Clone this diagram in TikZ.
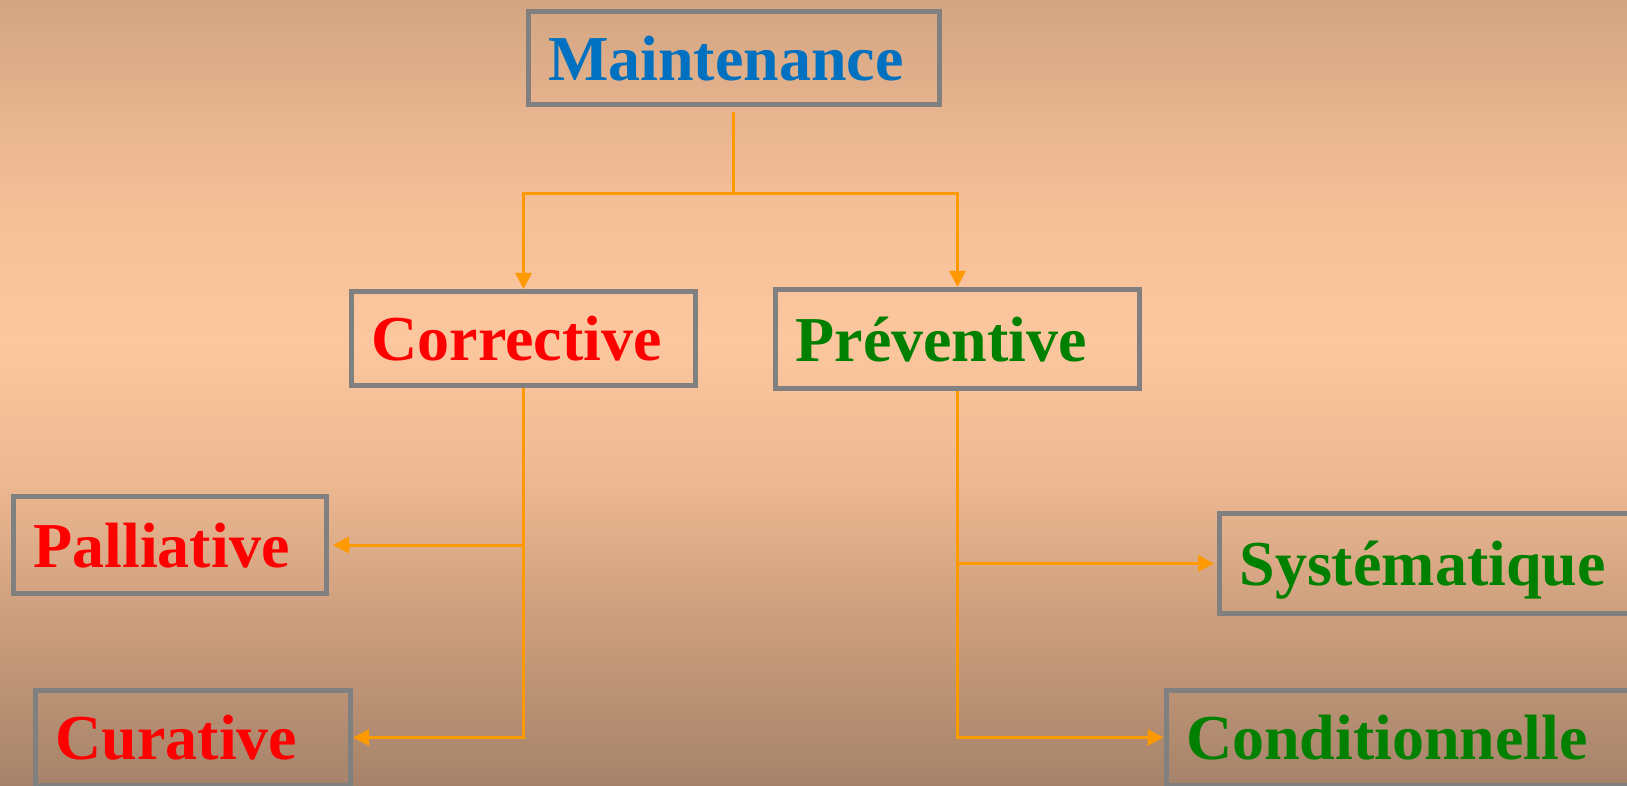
\documentclass[tikz,border=0pt]{standalone}
\usepackage{fontspec}
\setmainfont{Liberation Serif}
\usetikzlibrary{arrows.meta}
\definecolor{bgtop}{HTML}{D3A582}
\definecolor{bghigh}{HTML}{F4BF97}
\definecolor{bgmid}{HTML}{FCC69E}
\definecolor{bglow}{HTML}{EFBA93}
\definecolor{bgdeep}{HTML}{CC9E7D}
\definecolor{bgbot}{HTML}{A5836A}
\definecolor{framegray}{HTML}{808080}
\definecolor{linkorange}{HTML}{FF9900}
\definecolor{titleblue}{HTML}{0070C0}
\definecolor{typegreen}{HTML}{008000}
\pgfdeclareverticalshading{slidebg}{100bp}{color(0bp)=(bgbot); color(25bp)=(bgbot);
    color(35.56bp)=(bgdeep); color(45.1bp)=(bglow); color(53.37bp)=(bgmid);
    color(62.28bp)=(bghigh); color(75bp)=(bgtop); color(100bp)=(bgtop)}
\tikzstyle{mbox} = [draw=framegray, line width=5pt, rectangle, inner xsep=20pt,
    inner ysep=0pt, align=left, text height=44pt, text depth=0pt,
    font=\fontsize{64}{70}\selectfont\bfseries]
\tikzstyle{link} = [draw=linkorange, line width=3pt]
\tikzstyle{arrowlink} = [link, -{Triangle[length=16pt,width=16pt]}]

\begin{document}
\begin{tikzpicture}[x=1pt, y=1pt]
    \useasboundingbox (0,0) rectangle (1627,-786);
    \clip (0,0) rectangle (1627,-786);
    \shade[shading=slidebg] (0,0) rectangle (1627,-786);

    \node[mbox, text=titleblue, text width=371pt, minimum height=93pt] (maint) at (733.5,-58.5) {Maintenance};
    \node[mbox, text=red, text width=304pt, minimum height=94pt] (corr) at (523.5,-338.5) {Corrective};
    \node[mbox, text=typegreen, text width=324pt, minimum height=99pt] (prev) at (957.5,-339) {Préventive};
    \node[mbox, text=red, text width=273pt, minimum height=97pt] (pall) at (170,-545) {Palliative};
    \node[mbox, text=red, text width=275pt, minimum height=95pt] (cur) at (193,-737.5) {Curative};
    \node[mbox, text=typegreen, text width=380pt, minimum height=100pt] (syst) at (1429.5,-563.5) {Systématique};
    \node[mbox, text=typegreen, text width=440pt, minimum height=95pt] (cond) at (1406,-737.5) {Conditionnelle};

    \coordinate (split) at (733.5,-194);
    \draw[link, shorten <=5pt] (maint.south) -- (split);
    \draw[arrowlink] (split) -| (corr.north);
    \draw[arrowlink] (split) -| (prev.north);
    \draw[arrowlink] (corr.south) |- (cur.east);
    \draw[arrowlink, shorten >=4pt] (corr.south |- pall.east) -- (pall.east);
    \draw[arrowlink] (prev.south) |- (cond.west);
    \draw[arrowlink, shorten >=3pt] (prev.south |- syst.west) -- (syst.west);
\end{tikzpicture}
\end{document}
